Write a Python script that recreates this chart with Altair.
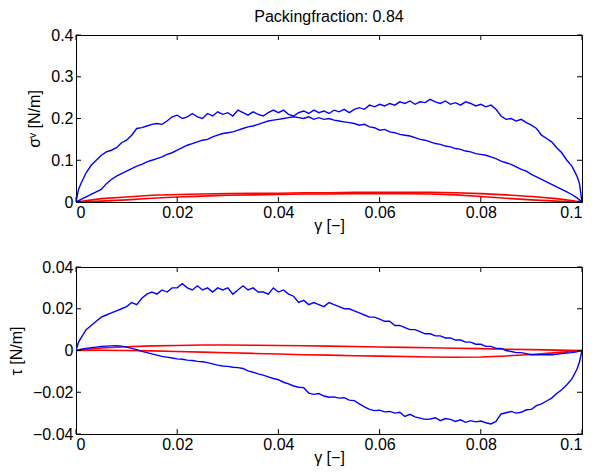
import altair as alt
import pandas as pd

# ---------------- data ----------------
GAMMA = [0, 0.0005] + [round(i * 0.001, 3) for i in range(1, 100)] + [0.0995, 0.1]

# top panel, blue (loading, upper branch)
SIG_BLUE_UP = [
    0, 0.030, 0.045, 0.070, 0.088, 0.100, 0.112, 0.120, 0.124, 0.130,
    0.142, 0.148, 0.160, 0.176, 0.178, 0.182, 0.186, 0.188, 0.186, 0.194,
    0.204, 0.208, 0.200, 0.204, 0.212, 0.204, 0.200, 0.212, 0.206, 0.216,
    0.210, 0.214, 0.206, 0.220, 0.214, 0.208, 0.216, 0.210, 0.206, 0.214,
    0.220, 0.214, 0.220, 0.210, 0.206, 0.214, 0.218, 0.212, 0.220, 0.214,
    0.218, 0.212, 0.220, 0.216, 0.222, 0.214, 0.222, 0.226, 0.222, 0.232,
    0.228, 0.234, 0.230, 0.236, 0.232, 0.240, 0.236, 0.242, 0.234, 0.240,
    0.238, 0.246, 0.240, 0.236, 0.242, 0.234, 0.238, 0.232, 0.240, 0.236,
    0.230, 0.234, 0.228, 0.232, 0.222, 0.206, 0.198, 0.200, 0.194, 0.198,
    0.190, 0.184, 0.176, 0.160, 0.152, 0.144, 0.130, 0.118, 0.100, 0.086,
    0.062, 0.044, 0,
]
# top panel, blue (lower branch)
SIG_BLUE_DN = [
    0, 0.003, 0.006, 0.012, 0.018, 0.024, 0.030, 0.044, 0.054, 0.062,
    0.068, 0.074, 0.080, 0.086, 0.090, 0.096, 0.100, 0.104, 0.108, 0.114,
    0.118, 0.124, 0.130, 0.136, 0.140, 0.144, 0.148, 0.150, 0.156, 0.160,
    0.164, 0.166, 0.168, 0.172, 0.176, 0.180, 0.182, 0.186, 0.190, 0.194,
    0.196, 0.198, 0.200, 0.202, 0.204, 0.202, 0.200, 0.204, 0.198, 0.202,
    0.198, 0.200, 0.196, 0.194, 0.192, 0.190, 0.188, 0.184, 0.186, 0.180,
    0.178, 0.172, 0.174, 0.168, 0.166, 0.162, 0.160, 0.158, 0.154, 0.150,
    0.148, 0.144, 0.140, 0.138, 0.134, 0.132, 0.128, 0.126, 0.122, 0.120,
    0.116, 0.114, 0.112, 0.108, 0.104, 0.098, 0.094, 0.090, 0.084, 0.078,
    0.074, 0.066, 0.060, 0.054, 0.048, 0.042, 0.036, 0.030, 0.024, 0.018,
    0.010, 0.005, 0,
]
# bottom panel, blue (upper branch)
TAU_BLUE_UP = [
    0, 0.004, 0.006, 0.010, 0.012, 0.014, 0.016, 0.017, 0.018, 0.019,
    0.020, 0.021, 0.023, 0.022, 0.025, 0.027, 0.028, 0.027, 0.029, 0.028,
    0.030, 0.030, 0.032, 0.030, 0.029, 0.031, 0.029, 0.030, 0.028, 0.030,
    0.029, 0.030, 0.027, 0.029, 0.031, 0.029, 0.030, 0.028, 0.028, 0.027,
    0.030, 0.028, 0.029, 0.027, 0.026, 0.023, 0.024, 0.022, 0.023, 0.022,
    0.021, 0.023, 0.022, 0.021, 0.020, 0.020, 0.019, 0.018, 0.017, 0.016,
    0.016, 0.015, 0.014, 0.014, 0.012, 0.012, 0.011, 0.010, 0.010, 0.009,
    0.008, 0.008, 0.007, 0.007, 0.006, 0.006, 0.005, 0.005, 0.004, 0.004,
    0.003, 0.003, 0.002, 0.002, 0.001, 0.001, 0.000, -0.0005, -0.001, -0.001,
    -0.0015, -0.002, -0.002, -0.002, -0.002, -0.002, -0.0018, -0.0015, -0.0012, -0.001,
    -0.0006, -0.0003, 0,
]
# bottom panel, blue (lower branch)
TAU_BLUE_DN = [
    0, 0.0003, 0.0006, 0.0010, 0.0013, 0.0016, 0.0019, 0.0021, 0.0022, 0.0023,
    0.0021, 0.0016, 0.0010, 0.0004, -0.0004, -0.0010, -0.0016, -0.0022, -0.0028, -0.0032,
    -0.0036, -0.0040, -0.0042, -0.0046, -0.0048, -0.0052, -0.0054, -0.0058, -0.0064, -0.0070,
    -0.0074, -0.0076, -0.0080, -0.0082, -0.0086, -0.0098, -0.0104, -0.0112, -0.0118, -0.0126,
    -0.0134, -0.0140, -0.0152, -0.0160, -0.0170, -0.0176, -0.0178, -0.0204, -0.0210, -0.0206,
    -0.0218, -0.0224, -0.0222, -0.0228, -0.0226, -0.0238, -0.0240, -0.0256, -0.0270, -0.0282,
    -0.0288, -0.0286, -0.0294, -0.0292, -0.0300, -0.0296, -0.0316, -0.0306, -0.0318, -0.0324,
    -0.0330, -0.0328, -0.0322, -0.0336, -0.0326, -0.0330, -0.0340, -0.0332, -0.0344, -0.0336,
    -0.0342, -0.0338, -0.0346, -0.0352, -0.0340, -0.0304, -0.0298, -0.0292, -0.0300, -0.0296,
    -0.0284, -0.0282, -0.0264, -0.0256, -0.0242, -0.0228, -0.0206, -0.0188, -0.0164, -0.0136,
    -0.0090, -0.0055, 0,
]

GAMMA_RED = [round(i * 0.005, 3) for i in range(21)]
SIG_RED_A = [0, 0.008, 0.012, 0.016, 0.018, 0.019, 0.020, 0.021, 0.021, 0.022, 0.022,
             0.023, 0.023, 0.023, 0.023, 0.022, 0.020, 0.017, 0.013, 0.008, 0]
SIG_RED_B = [0, 0.002, 0.005, 0.009, 0.012, 0.014, 0.016, 0.017, 0.018, 0.019, 0.019,
             0.020, 0.020, 0.020, 0.019, 0.017, 0.013, 0.009, 0.005, 0.002, 0]
TAU_RED_A = [0, 0.0012, 0.0018, 0.0022, 0.0024, 0.0026, 0.0026, 0.0025, 0.0024, 0.0023, 0.0021,
             0.0019, 0.0017, 0.0015, 0.0013, 0.0011, 0.0009, 0.0006, 0.0004, 0.0002, 0]
TAU_RED_B = [0, 0.0001, 0.0, -0.0002, -0.0005, -0.0008, -0.0011, -0.0014, -0.0017, -0.0020, -0.0022,
             -0.0025, -0.0027, -0.0029, -0.0031, -0.0032, -0.0031, -0.0026, -0.0019, -0.0010, 0]

X_TICKS = [0, 0.02, 0.04, 0.06, 0.08, 0.1]
SIG_TICKS = [0, 0.1, 0.2, 0.3, 0.4]
TAU_TICKS = [-0.04, -0.02, 0, 0.02, 0.04]

TITLE = "Packingfraction: 0.84"
X_TITLE = "γ [−]"
SIG_TITLE = "σᵛ [N/m]"
TAU_TITLE = "τ [N/m]"

# ---------------- build ----------------
FONT = "Liberation Sans"
FS = 16
W, H = 506, 167
TICK = 5


def lines_df(curves):
    rows = []
    for name, color, xs, ys in curves:
        for i, (x, y) in enumerate(zip(xs, ys)):
            rows.append({"g": x, "v": y, "s": name, "c": color, "i": i})
    return pd.DataFrame(rows)


def panel(curves, y_dom, y_ticks, y_title, title=None):
    xsc = alt.Scale(domain=[0, 0.1], nice=False, zero=False)
    ysc = alt.Scale(domain=y_dom, nice=False, zero=False)
    xax = alt.Axis(values=X_TICKS, format="~g", title=X_TITLE)
    yax = alt.Axis(values=y_ticks, format="~g", title=y_title)
    df = lines_df(curves)
    base = alt.Chart(df).mark_line(clip=True).encode(
        x=alt.X("g:Q", scale=xsc, axis=xax),
        y=alt.Y("v:Q", scale=ysc, axis=yax),
        detail="s:N",
        order="i:Q",
        color=alt.Color("c:N", scale=None),
        strokeWidth=alt.StrokeWidth("w:Q", scale=None),
    ).transform_calculate(w="datum.c == 'red' ? 1.6 : 1.4")

    xt = pd.DataFrame({"g": X_TICKS})
    yt = pd.DataFrame({"v": y_ticks})
    tb = alt.Chart(xt).mark_rule(color="black", strokeWidth=1).encode(
        x=alt.X("g:Q", scale=xsc, axis=xax), y=alt.value(H), y2=alt.value(H - TICK))
    tt = alt.Chart(xt).mark_rule(color="black", strokeWidth=1).encode(
        x=alt.X("g:Q", scale=xsc, axis=xax), y=alt.value(0), y2=alt.value(TICK))
    tl = alt.Chart(yt).mark_rule(color="black", strokeWidth=1).encode(
        y=alt.Y("v:Q", scale=ysc, axis=yax), x=alt.value(0), x2=alt.value(TICK))
    tr = alt.Chart(yt).mark_rule(color="black", strokeWidth=1).encode(
        y=alt.Y("v:Q", scale=ysc, axis=yax), x=alt.value(W - TICK), x2=alt.value(W))

    props = dict(width=W, height=H)
    if title:
        props["title"] = alt.TitleParams(title, font=FONT, fontSize=FS, fontWeight="normal",
                                         color="black", anchor="middle", offset=2)
    return alt.layer(base, tb, tt, tl, tr).properties(**props)


top = panel(
    [("sr_a", "red", GAMMA_RED, SIG_RED_A), ("sr_b", "red", GAMMA_RED, SIG_RED_B),
     ("sb_up", "blue", GAMMA, SIG_BLUE_UP), ("sb_dn", "blue", GAMMA, SIG_BLUE_DN)],
    [0, 0.4], SIG_TICKS, SIG_TITLE, TITLE)
bottom = panel(
    [("tr_a", "red", GAMMA_RED, TAU_RED_A), ("tr_b", "red", GAMMA_RED, TAU_RED_B),
     ("tb_up", "blue", GAMMA, TAU_BLUE_UP), ("tb_dn", "blue", GAMMA, TAU_BLUE_DN)],
    [-0.04, 0.04], TAU_TICKS, TAU_TITLE)

chart = alt.vconcat(top, bottom, spacing=24).properties(
    padding={"left": 0, "top": 0, "right": 0, "bottom": 0}
).configure_view(stroke="black", strokeWidth=1).configure_axis(
    grid=False, ticks=False, labelFont=FONT, labelFontSize=FS, labelColor="black",
    labelPadding=2, domainColor="black", domainWidth=1,
    titleFont=FONT, titleFontSize=FS, titleFontWeight="normal", titleColor="black",
    titlePadding=-3,
).configure_axisY(titlePadding=8, labelPadding=3)

chart.save("out.html", embed_options={"renderer": "svg", "actions": False})
